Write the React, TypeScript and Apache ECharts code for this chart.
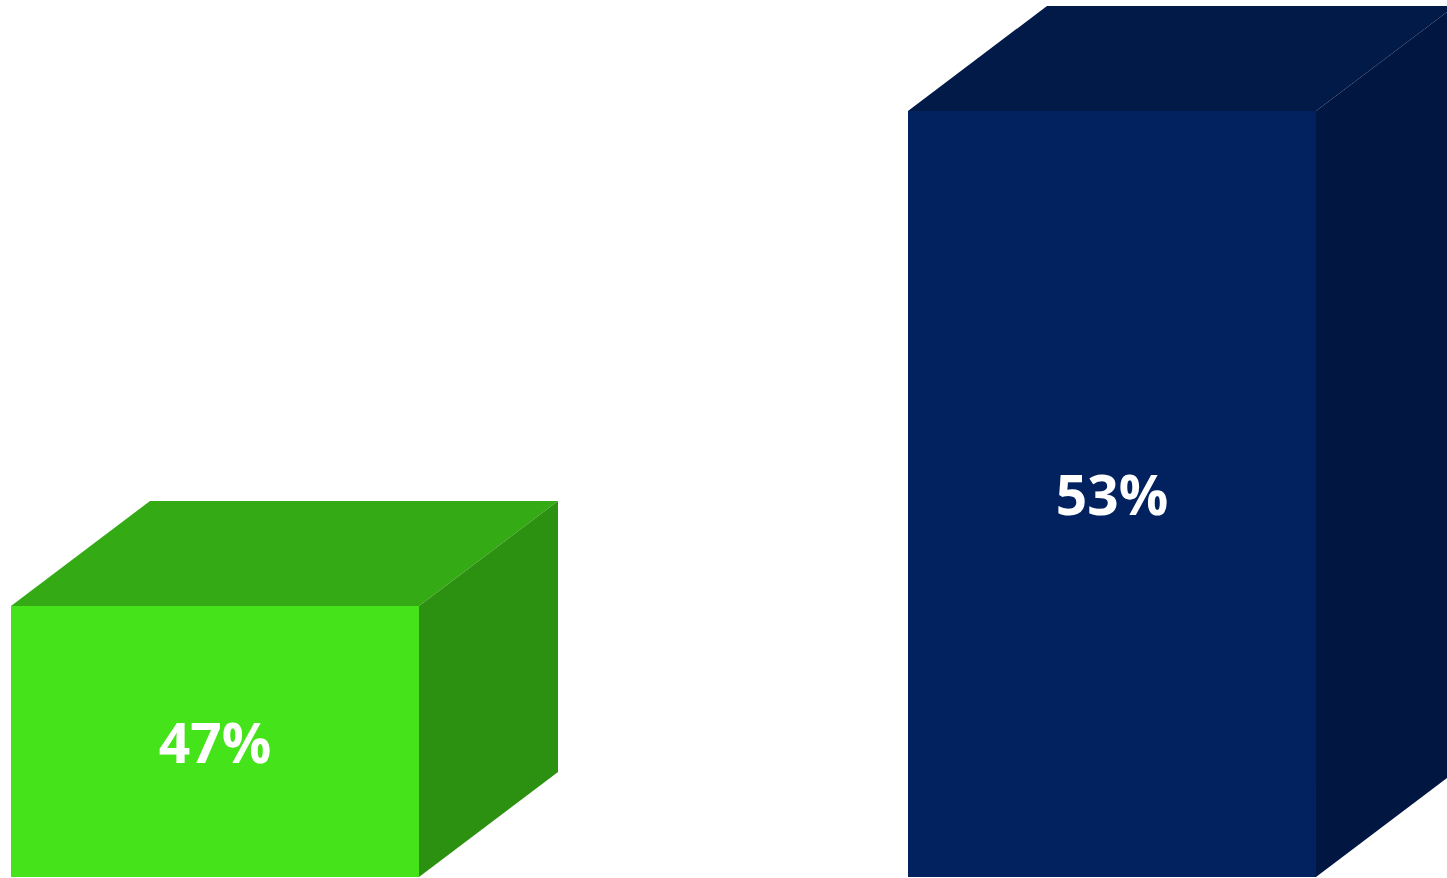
import React, { useEffect, useRef } from "react";
import * as echarts from "echarts";

const categories = ["A", "B"];
const positions = [0, 1];
const values = [47, 53];
const labels = ["47%", "53%"];
const frontColors = ["#45E31A", "#02215F"];
const topColors = ["#34AB15", "#011A48"];
const sideColors = ["#2C9010", "#011640"];

const X_MIN = -0.23969;
const X_MAX = 1.37347;
const Y_MIN = 43.715;
const Y_MAX = 54.345;
const DEPTH_X = 139;
const DEPTH_Y = 105;
const BAR_UNITS = 0.45485;

export default function App() {
  const ref = useRef<HTMLDivElement>(null);
  useEffect(() => {
    if (!ref.current) return;
    const chart = echarts.init(ref.current, undefined, { renderer: "svg" });
    chart.setOption({
      animation: false,
      backgroundColor: "#ffffff",
      grid: { left: 0, right: 0, top: 0, bottom: 1 },
      xAxis: {
        type: "value",
        min: X_MIN,
        max: X_MAX,
        show: false,
        splitLine: { show: false },
      },
      yAxis: {
        type: "value",
        min: Y_MIN,
        max: Y_MAX,
        show: false,
        splitLine: { show: false },
      },
      series: [
        {
          type: "custom",
          name: "share",
          clip: false,
          data: values.map((v, i) => ({ name: categories[i], value: [positions[i], v, i] })),
          renderItem: (params: any, api: any) => {
            const xv = api.value(0);
            const val = api.value(1);
            const idx = api.value(2);
            const top = api.coord([xv, val]);
            const base = api.coord([xv, Y_MIN]);
            const w = api.size([BAR_UNITS, 0])[0];
            const x0 = top[0] - w / 2;
            const x1 = top[0] + w / 2;
            const yt = top[1];
            const yb = base[1];
            return {
              type: "group",
              children: [
                {
                  type: "polygon",
                  shape: { points: [[x0, yt], [x1, yt], [x1, yb], [x0, yb]] },
                  style: { fill: frontColors[idx] },
                },
                {
                  type: "polygon",
                  shape: {
                    points: [
                      [x0, yt],
                      [x0 + DEPTH_X, yt - DEPTH_Y],
                      [x1 + DEPTH_X, yt - DEPTH_Y],
                      [x1, yt],
                    ],
                  },
                  style: { fill: topColors[idx] },
                },
                {
                  type: "polygon",
                  shape: {
                    points: [
                      [x1, yt],
                      [x1 + DEPTH_X, yt - DEPTH_Y],
                      [x1 + DEPTH_X, yb - DEPTH_Y],
                      [x1, yb],
                    ],
                  },
                  style: { fill: sideColors[idx] },
                },
                {
                  type: "text",
                  x: top[0],
                  y: (yt + yb) / 2,
                  style: {
                    text: labels[idx],
                    fill: "#ffffff",
                    font: "bold 55px 'Open Sans', sans-serif",
                    align: "center",
                    verticalAlign: "middle",
                  },
                },
              ],
            };
          },
        },
      ],
    });
    return () => chart.dispose();
  }, []);
  return (
    <div
      ref={ref}
      style={{ position: "absolute", left: 0, top: 0, width: 1447, height: 878 }}
    />
  );
}
